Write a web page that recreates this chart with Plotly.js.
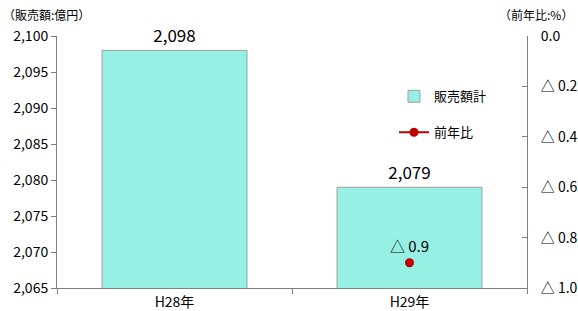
<!DOCTYPE html>
<html>
<head>
<meta charset="utf-8">
<script src="https://cdn.plot.ly/plotly-3.0.1.min.js"></script>
<style>html,body{margin:0;padding:0;background:#fff;}#chart{width:578px;height:311px;}</style>
</head>
<body>
<div id="chart"></div>
<script>
var categories = ['H28年', 'H29年'];
var sales = [2098, 2079];
var yoyCategories = ['H29年'];
var yoy = [-0.9];
var leftTicks = [2065, 2070, 2075, 2080, 2085, 2090, 2095, 2100];
var rightTickVals = [0, -0.2, -0.4, -0.6, -0.8, -1.0];
var rightTickText = ['0.0', '△ 0.2', '△ 0.4', '△ 0.6', '△ 0.8', '△ 1.0'];

function fmtYoy(v) { return (v < 0 ? '△ ' : '') + Math.abs(v).toFixed(1); }

var font = 'Noto Sans CJK JP, Noto Sans, sans-serif';

var traces = [
  {
    type: 'bar', name: '販売額計', x: categories, y: sales,
    marker: {color: '#96f0e4', line: {color: '#a0a0a0', width: 1}},
    text: sales.map(function(v){ return v.toLocaleString('en-US'); }),
    textposition: 'outside', cliponaxis: false,
    textfont: {size: 17, color: '#000', family: font},
    legendgroup: 'a', hoverinfo: 'none'
  },
  {
    type: 'scatter', name: '前年比', x: yoyCategories, y: yoy, yaxis: 'y2',
    mode: 'lines+markers+text',
    line: {color: '#c00000', width: 2},
    marker: {color: '#c00000', size: 9},
    text: yoy.map(fmtYoy), textposition: 'top center',
    textfont: {size: 15, color: '#000', family: font},
    cliponaxis: false, legendgroup: 'b', hoverinfo: 'none'
  }
];

var layout = {
  width: 578, height: 311,
  margin: {l: 57, r: 51, t: 36, b: 23},
  paper_bgcolor: '#fff', plot_bgcolor: '#fff',
  font: {family: font, size: 13, color: '#000'},
  showlegend: true,
  bargap: 0.383,
  legend: {x: 0.717, y: 0.82, xanchor: 'left', yanchor: 'top', bgcolor: 'rgba(0,0,0,0)',
           traceorder: 'grouped', tracegroupgap: 16, font: {size: 13}},
  xaxis: {
    type: 'category', showline: true, linecolor: '#808080', linewidth: 1,
    ticks: 'outside', tickson: 'boundaries', ticklen: 5, tickcolor: '#808080',
    showgrid: false, tickfont: {size: 14}, ticklabelstandoff: 1
  },
  yaxis: {
    range: [2065, 2100], tickvals: leftTicks, tickformat: ',d',
    showline: true, linecolor: '#808080', linewidth: 1,
    ticks: 'outside', ticklen: 5, tickcolor: '#808080', showgrid: false, zeroline: false,
    tickfont: {size: 14}
  },
  yaxis2: {
    overlaying: 'y', side: 'right', range: [-1, 0],
    tickvals: rightTickVals, ticktext: rightTickText,
    showline: true, linecolor: '#808080', linewidth: 1,
    ticks: 'inside', ticklen: 5, tickcolor: '#808080', showgrid: false, zeroline: false,
    tickfont: {size: 14}, ticklabelstandoff: 10
  },
  annotations: [
    {text: '（販売額:億円）', xref: 'paper', yref: 'paper', x: -0.12, y: 1.0, yshift: 22,
     xanchor: 'left', yanchor: 'middle', showarrow: false, font: {size: 12}},
    {text: '（前年比:%）', xref: 'paper', yref: 'paper', x: 1.102, y: 1.0, yshift: 22,
     xanchor: 'right', yanchor: 'middle', showarrow: false, font: {size: 12}}
  ]
};

Plotly.newPlot('chart', traces, layout, {displayModeBar: false, staticPlot: true});
</script>
</body>
</html>
